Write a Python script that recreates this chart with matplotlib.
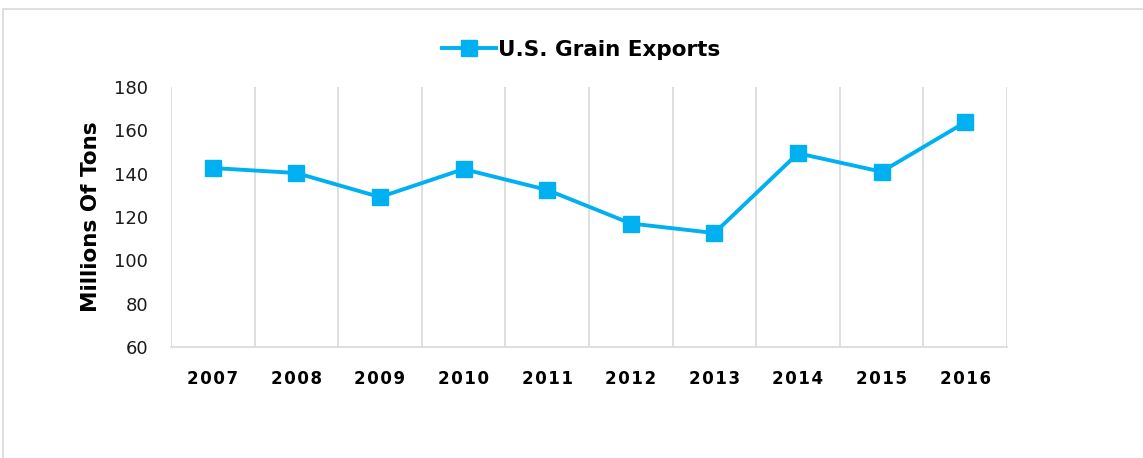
import matplotlib
matplotlib.use("Agg")
import matplotlib.pyplot as plt
from matplotlib.patches import Rectangle
from matplotlib.ticker import FixedLocator

years = ["2007", "2008", "2009", "2010", "2011", "2012", "2013", "2014", "2015", "2016"]
exports = [142.6, 140.3, 129.2, 142.1, 132.5, 117.0, 112.6, 149.4, 140.9, 163.7]
series_name = "U.S. Grain Exports"
y_label = "Millions Of Tons"
y_ticks = [60, 80, 100, 120, 140, 160, 180]

W, H = 1143, 458
fig = plt.figure(figsize=(W / 100, H / 100), dpi=100)
fig.patch.set_facecolor("white")

# outer chart border
fig.patches.append(Rectangle((3 / W, -0.1), 1.2, 1 - 9 / H + 0.1,
                             transform=fig.transFigure, fill=False,
                             edgecolor="#d9d9d9", linewidth=1.2))

ax = fig.add_axes([171 / W, 111 / H, 836 / W, 260 / H])
x = list(range(len(years)))
line, = ax.plot(x, exports, color="#00B0F0", linewidth=2.8, marker="s",
                markersize=12, markerfacecolor="#00B0F0",
                markeredgecolor="#00B0F0", label=series_name, zorder=3)

ax.set_xlim(-0.5, len(years) - 0.5)
ax.set_ylim(60, 180)
ax.set_yticks(y_ticks)
ax.set_yticklabels([str(v) for v in y_ticks], fontsize=13, color="#1a1a1a")
ax.set_xticks(x)
spaced = ["\u200a".join(list(y)) for y in years]
ax.set_xticklabels(spaced, fontsize=12, fontweight="bold", color="#000000")
ax.xaxis.set_minor_locator(FixedLocator([i - 0.5 for i in range(len(years) + 1)]))
ax.grid(which="minor", axis="x", color="#d9d9d9", linewidth=1.2)
ax.tick_params(axis="both", which="both", length=0)
ax.tick_params(axis="x", pad=16.5)
ax.tick_params(axis="y", pad=16.5)
for s in ["top", "right", "left"]:
    ax.spines[s].set_visible(False)
ax.spines["bottom"].set_color("#d9d9d9")
ax.spines["bottom"].set_linewidth(1.2)

ax.set_ylabel(y_label, fontsize=15.5, fontweight="bold", labelpad=9)

fig.legend(handles=[line], loc="center", bbox_to_anchor=(581 / W, 1 - 50 / H),
           frameon=False, prop={"size": 15.5, "weight": "bold"},
           handlelength=2.5, handletextpad=0.1)

fig.savefig("out.png", dpi=100)
